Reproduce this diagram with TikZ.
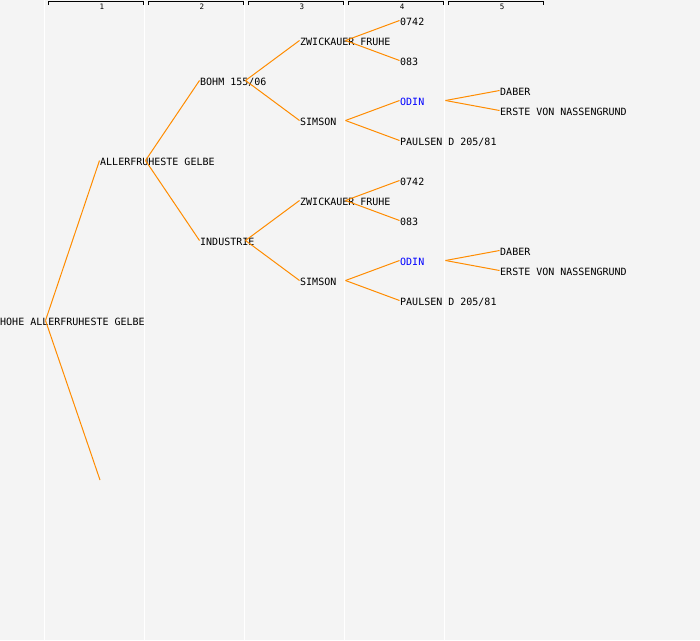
\documentclass[tikz,border=0pt]{standalone}
\usepackage{fontspec}
\newfontfamily\monofont{DejaVu Sans Mono}
\definecolor{bgc}{HTML}{F4F4F4}
\definecolor{linec}{HTML}{FF8C00}
\definecolor{odinc}{HTML}{0000FF}
\begin{document}
\begin{tikzpicture}[x=1pt,y=-1pt,
  lbl/.style={anchor=west, inner sep=0pt, font=\monofont\fontsize{10}{12}\selectfont, text height=7.3pt, text depth=0pt},
  hdr/.style={inner sep=0pt, font=\monofont\fontsize{7.5}{9}\selectfont},
  conn/.style={draw=linec, line width=1pt},
  sep/.style={draw=white, line width=1pt},
  bracket/.style={draw=black, line width=1pt}]
\fill[bgc] (0,0) rectangle (700,640);
\useasboundingbox (0,0) rectangle (700,640);
% column separators
\foreach \x in {44.5,144.5,244.5,344.5,444.5} \draw[sep] (\x,0) -- (\x,640);
% header brackets
\foreach \c in {1,...,5} {
  \draw[bracket] ({\c*100-52},5) -- ({\c*100-52},1.5) -- ({\c*100+43},1.5) -- ({\c*100+43},5);
  \node[hdr] (h\c) at ({\c*100+2},6.5) {\c};
}
% nodes
\node[lbl] (n0) at (0,322) {HOHE ALLERFRUHESTE GELBE};
\node[lbl] (n1) at (100,162) {ALLERFRUHESTE GELBE};
\coordinate (e1) at (100,480);
\node[lbl] (n2a) at (200,82) {BOHM 155/06};
\node[lbl] (n2b) at (200,242) {INDUSTRIE};
\node[lbl] (n3a) at (300,42) {ZWICKAUER FRUHE};
\node[lbl] (n3b) at (300,122) {SIMSON};
\node[lbl] (n3c) at (300,202) {ZWICKAUER FRUHE};
\node[lbl] (n3d) at (300,282) {SIMSON};
\node[lbl] (n4a) at (400,22) {0742};
\node[lbl] (n4b) at (400,62) {083};
\node[lbl,text=odinc] (n4c) at (400,102) {ODIN};
\node[lbl] (n4d) at (400,142) {PAULSEN D 205/81};
\node[lbl] (n4e) at (400,182) {0742};
\node[lbl] (n4f) at (400,222) {083};
\node[lbl,text=odinc] (n4g) at (400,262) {ODIN};
\node[lbl] (n4h) at (400,302) {PAULSEN D 205/81};
\node[lbl] (n5a) at (500,92) {DABER};
\node[lbl] (n5b) at (500,112) {ERSTE VON NASSENGRUND};
\node[lbl] (n5c) at (500,252) {DABER};
\node[lbl] (n5d) at (500,272) {ERSTE VON NASSENGRUND};
% fork points
\foreach \p in {n0,n1,n2a,n2b,n3a,n3b,n3c,n3d,n4c,n4g}
  \coordinate (f\p) at ([xshift=45.5pt,yshift=1.5pt]\p.west);
% connectors
\foreach \p/\c in {n0/n1, n1/n2a, n1/n2b, n2a/n3a, n2a/n3b, n2b/n3c, n2b/n3d,
  n3a/n4a, n3a/n4b, n3b/n4c, n3b/n4d, n3c/n4e, n3c/n4f, n3d/n4g, n3d/n4h,
  n4c/n5a, n4c/n5b, n4g/n5c, n4g/n5d}
  \draw[conn] (f\p) -- ([xshift=-0.5pt,yshift=1.5pt]\c.west);
\draw[conn] (fn0) -- (e1);
\end{tikzpicture}
\end{document}
